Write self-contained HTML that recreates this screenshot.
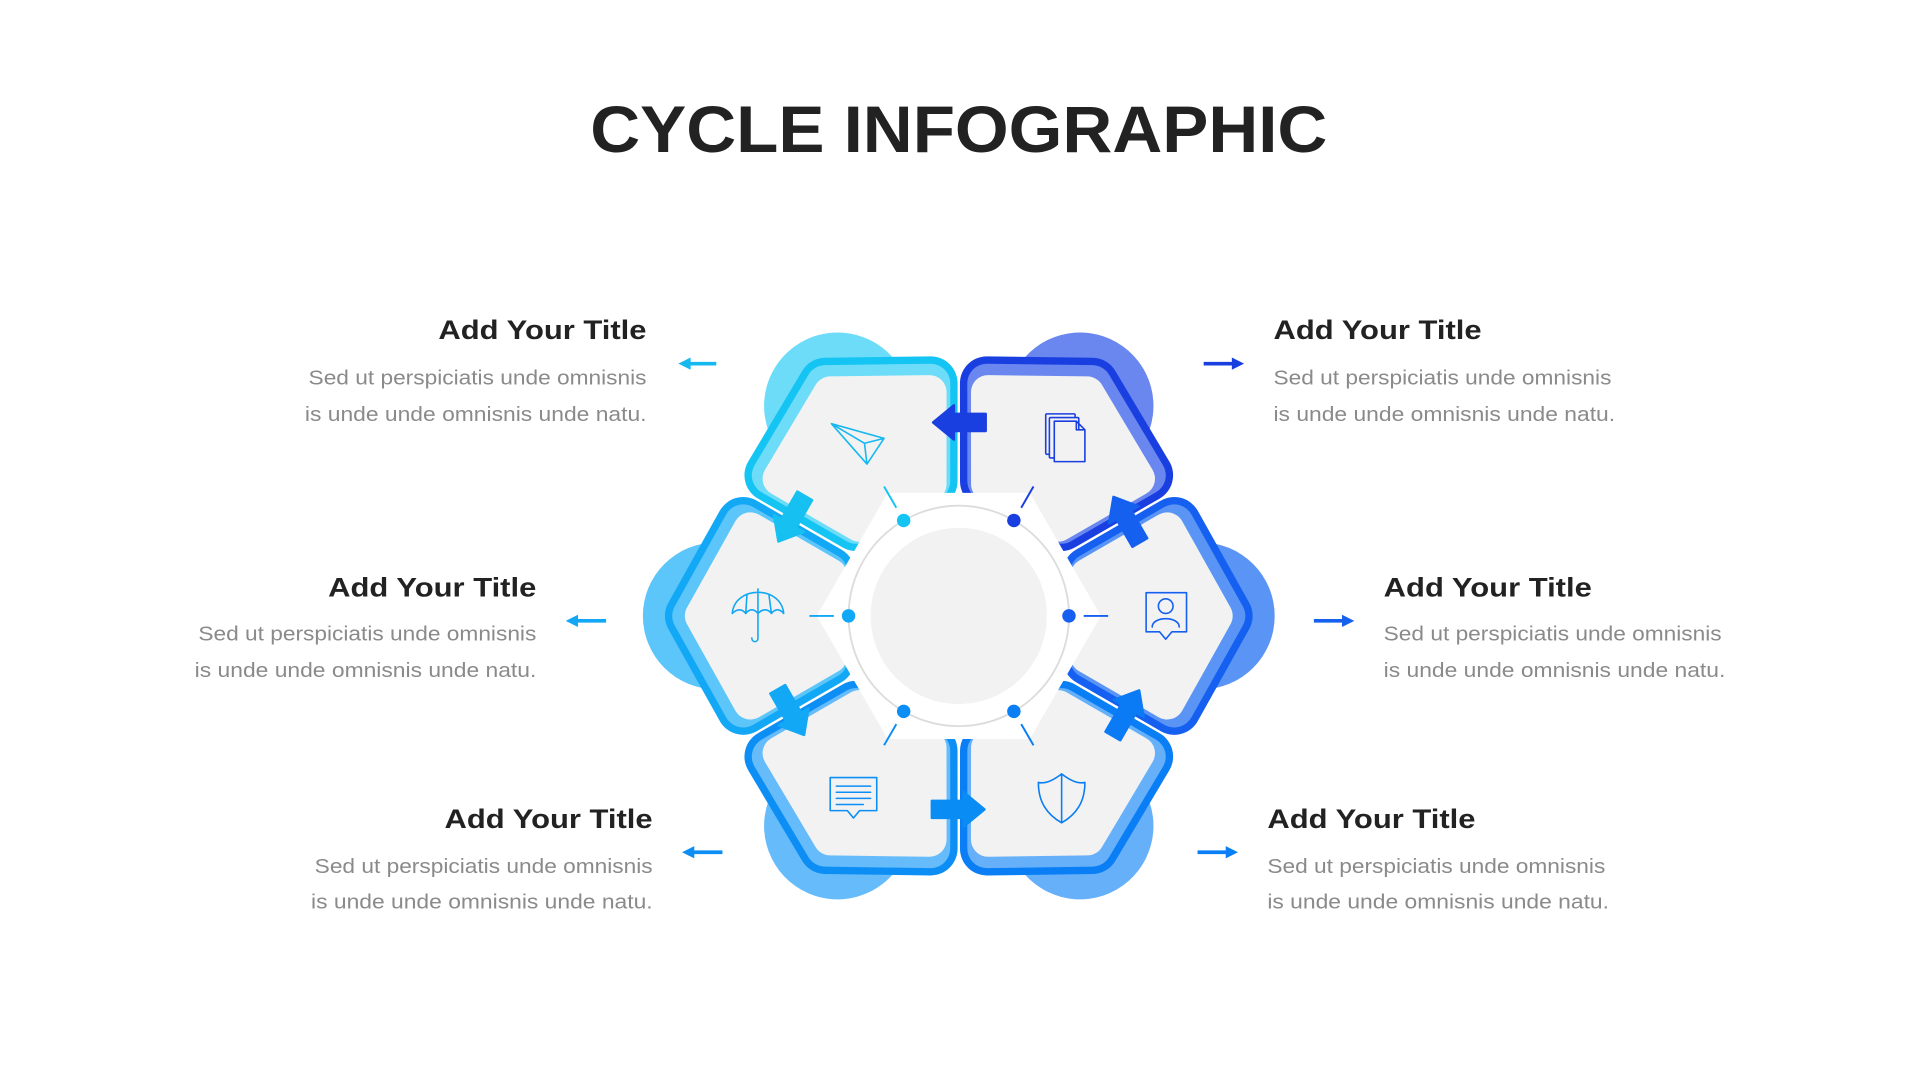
<!DOCTYPE html>
<html><head><meta charset="utf-8"><style>
html,body{margin:0;padding:0;background:#fff;width:1920px;height:1080px;overflow:hidden}
svg{display:block}
text{font-family:"Liberation Sans",sans-serif}
</style></head><body>
<svg width="1920" height="1080" viewBox="0 0 1568 882" xmlns="http://www.w3.org/2000/svg">
<rect width="1568" height="882" fill="#fff"/>
<text x="783" y="124" text-anchor="middle" font-size="54" font-weight="bold" fill="#222" textLength="602" lengthAdjust="spacingAndGlyphs">CYCLE INFOGRAPHIC</text>

<g transform="translate(783,503)">
  <circle cx="198" cy="0" r="60" fill="#5a95f5"/>
  <circle cx="198" cy="0" r="60" fill="#6a87f0" transform="rotate(-60)"/>
  <circle cx="198" cy="0" r="60" fill="#6ddcf8" transform="rotate(-120)"/>
  <circle cx="198" cy="0" r="60" fill="#5cc6fa" transform="rotate(-180)"/>
  <circle cx="198" cy="0" r="60" fill="#66bcfa" transform="rotate(-240)"/>
  <circle cx="198" cy="0" r="60" fill="#66b0fa" transform="rotate(-300)"/>

  <g stroke-linejoin="round">
  <g transform="rotate(0)"><polygon points="106.8,35.1 176,75.1 218,0 176,-75.1 106.8,-35.1" fill="#1560f0" stroke="#1560f0" stroke-width="44"/><polygon points="106.8,35.1 176,75.1 218,0 176,-75.1 106.8,-35.1" fill="#5a95f5" stroke="#5a95f5" stroke-width="32"/><polygon points="105.2,33 170.2,70.6 209.7,0 170.2,-70.6 105.2,-33" fill="#f2f2f2" stroke="#f2f2f2" stroke-width="28"/></g>
  <g transform="rotate(-60)"><polygon points="106.8,35.1 176,75.1 218,0 176,-75.1 106.8,-35.1" fill="#1a3fe0" stroke="#1a3fe0" stroke-width="44"/><polygon points="106.8,35.1 176,75.1 218,0 176,-75.1 106.8,-35.1" fill="#6a87f0" stroke="#6a87f0" stroke-width="32"/><polygon points="105.2,33 170.2,70.6 209.7,0 170.2,-70.6 105.2,-33" fill="#f2f2f2" stroke="#f2f2f2" stroke-width="28"/></g>
  <g transform="rotate(-120)"><polygon points="106.8,35.1 176,75.1 218,0 176,-75.1 106.8,-35.1" fill="#14c4f2" stroke="#14c4f2" stroke-width="44"/><polygon points="106.8,35.1 176,75.1 218,0 176,-75.1 106.8,-35.1" fill="#6ddcf8" stroke="#6ddcf8" stroke-width="32"/><polygon points="105.2,33 170.2,70.6 209.7,0 170.2,-70.6 105.2,-33" fill="#f2f2f2" stroke="#f2f2f2" stroke-width="28"/></g>
  <g transform="rotate(-180)"><polygon points="106.8,35.1 176,75.1 218,0 176,-75.1 106.8,-35.1" fill="#12a8f5" stroke="#12a8f5" stroke-width="44"/><polygon points="106.8,35.1 176,75.1 218,0 176,-75.1 106.8,-35.1" fill="#5cc6fa" stroke="#5cc6fa" stroke-width="32"/><polygon points="105.2,33 170.2,70.6 209.7,0 170.2,-70.6 105.2,-33" fill="#f2f2f2" stroke="#f2f2f2" stroke-width="28"/></g>
  <g transform="rotate(-240)"><polygon points="106.8,35.1 176,75.1 218,0 176,-75.1 106.8,-35.1" fill="#0d8ef5" stroke="#0d8ef5" stroke-width="44"/><polygon points="106.8,35.1 176,75.1 218,0 176,-75.1 106.8,-35.1" fill="#66bcfa" stroke="#66bcfa" stroke-width="32"/><polygon points="105.2,33 170.2,70.6 209.7,0 170.2,-70.6 105.2,-33" fill="#f2f2f2" stroke="#f2f2f2" stroke-width="28"/></g>
  <g transform="rotate(-300)"><polygon points="106.8,35.1 176,75.1 218,0 176,-75.1 106.8,-35.1" fill="#0a7ef5" stroke="#0a7ef5" stroke-width="44"/><polygon points="106.8,35.1 176,75.1 218,0 176,-75.1 106.8,-35.1" fill="#66b0fa" stroke="#66b0fa" stroke-width="32"/><polygon points="105.2,33 170.2,70.6 209.7,0 170.2,-70.6 105.2,-33" fill="#f2f2f2" stroke="#f2f2f2" stroke-width="28"/></g>
  </g>

  <polygon points="116,0 58,-100.5 -58,-100.5 -116,0 -58,100.5 58,100.5" fill="#fff"/>
  <circle r="90" fill="#fff" stroke="#dcdcdc" stroke-width="1.5"/>
  <circle r="72" fill="#f2f2f2"/>

  <g stroke-width="1.6">
    <line x1="102" y1="0" x2="122" y2="0" stroke="#1560f0"/>
    <line x1="102" y1="0" x2="122" y2="0" stroke="#1a3fe0" transform="rotate(-60)"/>
    <line x1="102" y1="0" x2="122" y2="0" stroke="#14c4f2" transform="rotate(-120)"/>
    <line x1="102" y1="0" x2="122" y2="0" stroke="#12a8f5" transform="rotate(-180)"/>
    <line x1="102" y1="0" x2="122" y2="0" stroke="#0d8ef5" transform="rotate(-240)"/>
    <line x1="102" y1="0" x2="122" y2="0" stroke="#0a7ef5" transform="rotate(-300)"/>
  </g>
  <circle cx="90" cy="0" r="5.5" fill="#1560f0"/>
  <circle cx="90" cy="0" r="5.5" fill="#1a3fe0" transform="rotate(-60)"/>
  <circle cx="90" cy="0" r="5.5" fill="#14c4f2" transform="rotate(-120)"/>
  <circle cx="90" cy="0" r="5.5" fill="#12a8f5" transform="rotate(-180)"/>
  <circle cx="90" cy="0" r="5.5" fill="#0d8ef5" transform="rotate(-240)"/>
  <circle cx="90" cy="0" r="5.5" fill="#0a7ef5" transform="rotate(-300)"/>

  <g transform="rotate(0)"><path d="M-5,-165 H22 V-151 H-5 Z M-21,-158 L-4,-172 L-4,-144 Z" fill="#1a3fe0" stroke="#1a3fe0" stroke-width="2" stroke-linejoin="round"/></g>
  <g transform="rotate(-60)"><path d="M-5,-165 H22 V-151 H-5 Z M-21,-158 L-4,-172 L-4,-144 Z" fill="#16c0f0" stroke="#16c0f0" stroke-width="2" stroke-linejoin="round"/></g>
  <g transform="rotate(-120)"><path d="M-5,-165 H22 V-151 H-5 Z M-21,-158 L-4,-172 L-4,-144 Z" fill="#12a8f5" stroke="#12a8f5" stroke-width="2" stroke-linejoin="round"/></g>
  <g transform="rotate(-180)"><path d="M-5,-165 H22 V-151 H-5 Z M-21,-158 L-4,-172 L-4,-144 Z" fill="#0a8cf5" stroke="#0a8cf5" stroke-width="2" stroke-linejoin="round"/></g>
  <g transform="rotate(-240)"><path d="M-5,-165 H22 V-151 H-5 Z M-21,-158 L-4,-172 L-4,-144 Z" fill="#0a7af5" stroke="#0a7af5" stroke-width="2" stroke-linejoin="round"/></g>
  <g transform="rotate(-300)"><path d="M-5,-165 H22 V-151 H-5 Z M-21,-158 L-4,-172 L-4,-144 Z" fill="#1560ee" stroke="#1560ee" stroke-width="2" stroke-linejoin="round"/></g>
</g>

<g fill="none" stroke-width="1.3" stroke-linejoin="round" stroke-linecap="round">
  <g stroke="#16b8f0"><path d="M679,346 L722,358 L708,379 Z M679,346 L706,362 L722,358 M706,362 L708,379"/></g>
  <g stroke="#1a3fe0"><rect x="854" y="338" width="24" height="33" rx="1"/><rect x="857" y="341" width="24" height="33" rx="1" fill="#f2f2f2"/><path d="M861,344 H879 L886,351 V377 H861 Z M879,344 V351 H886" fill="#f2f2f2"/></g>
  <g stroke="#1560f0"><path d="M936,484 H969 V516 H957 L952,522 L947,516 H936 Z"/><circle cx="952" cy="495" r="6"/><path d="M941,512 C941,503 963,503 963,512"/></g>
  <g stroke="#12a8f5"><path d="M598,501 C600,478 638,478 640,501 C637,497 633,497 630,501 C627,497 623,497 619,501 C616,497 612,497 609,501 C606,497 602,497 598,501 Z M619,485 V521 C619,525 614,525 614,521 M619,484 V481 M610,486 L609,501 M628,486 L630,501"/></g>
  <g stroke="#0d8ef5"><path d="M678,635 H716 V662 H702 L697,668 L692,662 H678 Z M683,642 H711 M683,647 H711 M683,652 H711 M683,657 H705"/></g>
  <g stroke="#0a7ef5"><path d="M867,632 C858,639 852,640 848,639 C848,655 855,665 867,672 C879,665 886,655 886,639 C882,640 876,639 867,632 Z M867,633 V671"/></g>
</g>

<g stroke-width="3">
  <line x1="585" y1="297" x2="562" y2="297" stroke="#16b8f0"/><path d="M554,297 L564,292 L564,302 Z" fill="#16b8f0"/>
  <line x1="495" y1="507" x2="470" y2="507" stroke="#12a8f5"/><path d="M462,507 L472,502 L472,512 Z" fill="#12a8f5"/>
  <line x1="590" y1="696" x2="565" y2="696" stroke="#0d8ef5"/><path d="M557,696 L567,691 L567,701 Z" fill="#0d8ef5"/>
  <line x1="983" y1="297" x2="1008" y2="297" stroke="#1a3fe0"/><path d="M1016,297 L1006,292 L1006,302 Z" fill="#1a3fe0"/>
  <line x1="1073" y1="507" x2="1098" y2="507" stroke="#1560ee"/><path d="M1106,507 L1096,502 L1096,512 Z" fill="#1560ee"/>
  <line x1="978" y1="696" x2="1003" y2="696" stroke="#0a7ef5"/><path d="M1011,696 L1001,691 L1001,701 Z" fill="#0a7ef5"/>
</g>

<g font-size="22" font-weight="bold" fill="#222">
  <text x="528" y="277" text-anchor="end" textLength="170" lengthAdjust="spacingAndGlyphs">Add Your Title</text>
  <text x="438" y="487" text-anchor="end" textLength="170" lengthAdjust="spacingAndGlyphs">Add Your Title</text>
  <text x="533" y="676" text-anchor="end" textLength="170" lengthAdjust="spacingAndGlyphs">Add Your Title</text>
  <text x="1040" y="277" textLength="170" lengthAdjust="spacingAndGlyphs">Add Your Title</text>
  <text x="1130" y="487" textLength="170" lengthAdjust="spacingAndGlyphs">Add Your Title</text>
  <text x="1035" y="676" textLength="170" lengthAdjust="spacingAndGlyphs">Add Your Title</text>
</g>
<g font-size="16.5" fill="#8a8a8a">
  <text x="528" y="314" text-anchor="end" textLength="276" lengthAdjust="spacingAndGlyphs">Sed ut perspiciatis unde omnisnis</text>
  <text x="528" y="344" text-anchor="end" textLength="279" lengthAdjust="spacingAndGlyphs">is unde unde omnisnis unde natu.</text>
  <text x="438" y="523" text-anchor="end" textLength="276" lengthAdjust="spacingAndGlyphs">Sed ut perspiciatis unde omnisnis</text>
  <text x="438" y="553" text-anchor="end" textLength="279" lengthAdjust="spacingAndGlyphs">is unde unde omnisnis unde natu.</text>
  <text x="533" y="713" text-anchor="end" textLength="276" lengthAdjust="spacingAndGlyphs">Sed ut perspiciatis unde omnisnis</text>
  <text x="533" y="742" text-anchor="end" textLength="279" lengthAdjust="spacingAndGlyphs">is unde unde omnisnis unde natu.</text>
  <text x="1040" y="314" textLength="276" lengthAdjust="spacingAndGlyphs">Sed ut perspiciatis unde omnisnis</text>
  <text x="1040" y="344" textLength="279" lengthAdjust="spacingAndGlyphs">is unde unde omnisnis unde natu.</text>
  <text x="1130" y="523" textLength="276" lengthAdjust="spacingAndGlyphs">Sed ut perspiciatis unde omnisnis</text>
  <text x="1130" y="553" textLength="279" lengthAdjust="spacingAndGlyphs">is unde unde omnisnis unde natu.</text>
  <text x="1035" y="713" textLength="276" lengthAdjust="spacingAndGlyphs">Sed ut perspiciatis unde omnisnis</text>
  <text x="1035" y="742" textLength="279" lengthAdjust="spacingAndGlyphs">is unde unde omnisnis unde natu.</text>
</g>
</svg>
</body></html>
